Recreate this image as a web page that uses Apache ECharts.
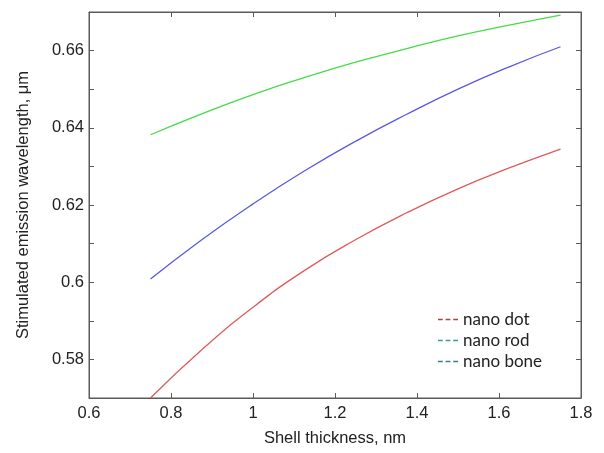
<!DOCTYPE html>
<html>
<head>
<meta charset="utf-8">
<script src="https://cdn.jsdelivr.net/npm/echarts@6/dist/echarts.min.js"></script>
<style>
  html, body { margin: 0; padding: 0; background: #fff; }
  #chart { width: 604px; height: 453px; }
</style>
</head>
<body>
<div id="chart"></div>
<script>
// shell thickness (nm)
var thickness = [0.75, 0.875, 1.0, 1.125, 1.25, 1.375, 1.5, 1.625, 1.75];
// stimulated emission wavelength (um)
var nanoDot  = [0.5700, 0.5825, 0.5935, 0.6030, 0.6110, 0.6180, 0.6242, 0.6296, 0.6345];
var nanoRod  = [0.6008, 0.6110, 0.6203, 0.6288, 0.6365, 0.6435, 0.6500, 0.6558, 0.6610];
var nanoBone = [0.6382, 0.6436, 0.6486, 0.6530, 0.6570, 0.6605, 0.6638, 0.6666, 0.6692];
var legendNames = ['nano dot', 'nano rod', 'nano bone'];

function pairs(ys) {
  var out = [];
  for (var i = 0; i < thickness.length; i++) out.push([thickness[i], ys[i]]);
  return out;
}

var chart = echarts.init(document.getElementById('chart'));
var axisCol = '#5a5a5a';
var font = 'Liberation Sans, Arial, sans-serif';
// three short dashes
var dashIcon = 'path://M0,0L5,0L5,1.6L0,1.6Z M8,0L13,0L13,1.6L8,1.6Z M16,0L21,0L21,1.6L16,1.6Z';

var option = {
  backgroundColor: '#fff',
  animation: false,
  grid: { left: 89, right: 23, top: 12, bottom: 55, show: true, backgroundColor: '#fff', borderColor: axisCol, borderWidth: 1 },
  legend: {
    orient: 'vertical',
    left: 433,
    top: 306,
    itemWidth: 20,
    itemHeight: 2,
    itemGap: 4,
    icon: dashIcon,
    textStyle: { fontFamily: 'Lato, Open Sans, sans-serif', fontSize: 17, color: '#222', padding: [0, 0, 0, 0] },
    data: [
      { name: legendNames[0], itemStyle: { color: '#b0404c' } },
      { name: legendNames[1], itemStyle: { color: '#3a9c94' } },
      { name: legendNames[2], itemStyle: { color: '#2f8494' } }
    ]
  },
  xAxis: [{
    type: 'value', min: 0.6, max: 1.8, interval: 0.2,
    name: 'Shell thickness, nm', nameLocation: 'middle', nameGap: 32,
    nameTextStyle: { fontFamily: font, fontSize: 16.5, color: '#222' },
    axisLine: { show: true, lineStyle: { color: axisCol } },
    axisTick: { show: true, inside: true, length: 5, lineStyle: { color: axisCol } },
    axisLabel: { fontFamily: font, fontSize: 16.5, color: '#222', margin: 7,
      formatter: function (v) { return String(+v.toFixed(1)); } },
    splitLine: { show: false }
  }, {
    type: 'value', position: 'top', min: 0.6, max: 1.8, interval: 0.2,
    axisLine: { show: true, lineStyle: { color: axisCol } },
    axisTick: { show: true, inside: true, length: 5, lineStyle: { color: axisCol } },
    axisLabel: { show: false }, splitLine: { show: false }
  }],
  yAxis: [{
    type: 'value', min: 0.57, max: 0.67, interval: 0.01,
    name: 'Stimulated emission wavelength, μm', nameLocation: 'middle', nameGap: 57,
    nameTextStyle: { fontFamily: font, fontSize: 16.5, color: '#222' },
    axisLine: { show: true, lineStyle: { color: axisCol } },
    axisTick: { show: true, inside: true, length: 5, lineStyle: { color: axisCol } },
    axisLabel: { fontFamily: font, fontSize: 16.5, color: '#222', margin: 5,
      formatter: function (v) {
        var k = Math.round(v * 100);
        if (k % 2 !== 0) return '';
        return String(+v.toFixed(2));
      } },
    splitLine: { show: false }
  }, {
    type: 'value', position: 'right', min: 0.57, max: 0.67, interval: 0.01,
    axisLine: { show: true, lineStyle: { color: axisCol } },
    axisTick: { show: true, inside: true, length: 5, lineStyle: { color: axisCol } },
    axisLabel: { show: false }, splitLine: { show: false }
  }],
  series: [
    { name: legendNames[0], type: 'line', data: pairs(nanoDot), smooth: true, symbol: 'none',
      lineStyle: { color: '#e05a5a', width: 1.3 }, itemStyle: { color: '#b0404c' } },
    { name: legendNames[1], type: 'line', data: pairs(nanoRod), smooth: true, symbol: 'none',
      lineStyle: { color: '#5a5ae0', width: 1.3 }, itemStyle: { color: '#3a9c94' } },
    { name: legendNames[2], type: 'line', data: pairs(nanoBone), smooth: true, symbol: 'none',
      lineStyle: { color: '#45dc45', width: 1.3 }, itemStyle: { color: '#2f8494' } }
  ]
};
chart.setOption(option);
</script>
</body>
</html>
